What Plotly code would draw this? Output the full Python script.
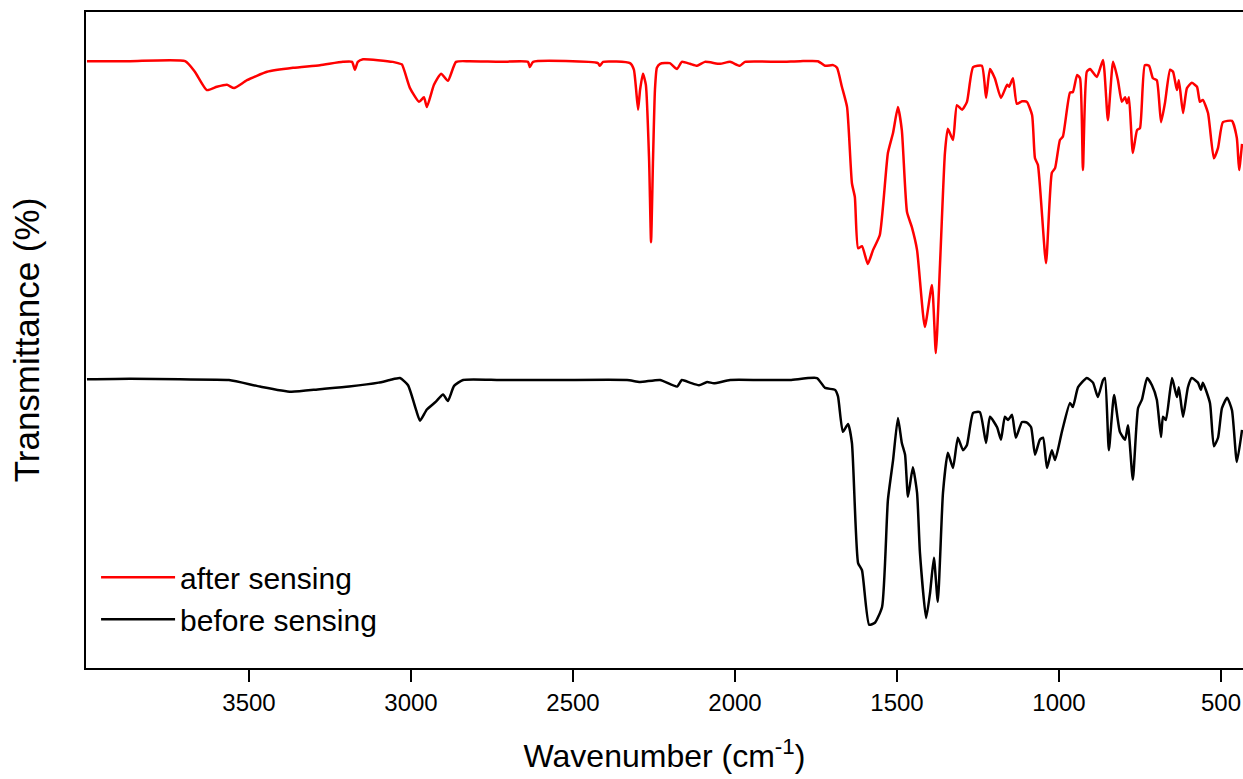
import plotly.graph_objects as go

# ---- data ----
after_wn = [4000, 3867, 3697, 3667, 3630, 3599, 3568, 3546, 3506, 3444, 3364, 3281, 3210, 3182,
            3173, 3164, 3148, 3056, 3040, 3028, 3003, 2975, 2960, 2951, 2929, 2907, 2886, 2861,
            2821, 2725, 2639, 2633, 2623, 2423, 2417, 2407, 2324, 2312, 2299, 2293, 2284, 2275,
            2265, 2259, 2253, 2247, 2241, 2231, 2201, 2179, 2164, 2139, 2117, 2093, 2046, 2015,
            1985, 1969, 1861, 1799, 1744,
            1722, 1697, 1685, 1670, 1654, 1639, 1630, 1620, 1608, 1590, 1574, 1553, 1528, 1512,
            1497, 1485, 1469, 1454, 1438, 1414, 1392, 1380, 1367, 1352, 1343, 1327, 1315, 1299,
            1284, 1265, 1238, 1225, 1213, 1198, 1179, 1160, 1154, 1142, 1130, 1114, 1099, 1083,
            1074, 1065, 1040, 1022, 1012, 997, 988, 966, 957, 944, 935, 926, 914, 904, 883, 864,
            849, 833, 818, 806, 796, 790, 784, 772, 759, 750, 735, 722, 710, 698, 685, 673, 657,
            648, 636, 630, 617, 605, 590, 574, 565, 556, 540, 522, 509, 494, 466, 451, 444, 435]
after_t = [92.5, 92.5, 92.5, 90.9, 88.1, 88.6, 88.9, 88.4, 89.6, 90.9, 91.5, 91.9, 92.4, 92.4,
           91.2, 92.4, 92.8, 92.4, 92.2, 92.0, 88.4, 86.3, 87.0, 85.5, 88.9, 90.6, 89.5, 92.4,
           92.5, 92.4, 92.4, 91.6, 92.4, 92.2, 91.8, 92.4, 92.2, 91.2, 85.1, 88.1, 90.6, 88.9,
           77.4, 64.9, 77.4, 88.1, 91.5, 92.1, 92.2, 91.3, 92.4, 92.1, 91.8, 92.4, 92.1, 92.4,
           91.8, 92.4, 92.4, 92.5, 92.5,
           91.8, 91.9, 91.5, 88.6, 85.5, 73.9, 71.8, 64.0, 64.3, 61.6, 63.7, 66.0, 78.5, 81.6,
           85.5, 82.0, 69.5, 67.2, 63.7, 52.0, 58.4, 48.0, 61.7, 78.5, 82.2, 80.5, 85.8, 85.1,
           86.3, 91.6, 91.8, 86.9, 91.3, 89.9, 86.9, 88.9, 88.6, 89.9, 86.0, 86.4, 86.3, 84.3,
           77.7, 76.7, 61.7, 75.5, 76.2, 80.5, 81.0, 87.7, 87.8, 90.4, 89.9, 75.9, 90.9, 91.3, 90.1, 92.7,
           83.5, 92.4, 89.6, 86.3, 87.0, 86.1, 87.0, 78.5, 82.0, 82.3, 91.9, 91.8, 89.9, 89.6, 83.2, 86.1, 91.2,
           90.9, 88.1, 89.6, 84.6, 88.4, 89.2, 88.6, 86.3, 86.6, 84.6, 77.7, 79.3, 83.2, 83.4, 80.8, 75.9, 79.9]

before_wn = [4000, 3867, 3713, 3562, 3466, 3370, 3281, 3191, 3100, 3065, 3034, 3009, 2984, 2972,
             2951, 2923, 2901, 2886, 2867, 2839, 2725, 2540, 2333, 2293, 2231, 2179, 2164, 2139,
             2111, 2086, 2065, 2015, 1923, 1830, 1747,
             1722, 1691, 1682, 1667, 1651, 1639, 1620, 1608, 1586, 1568, 1546, 1528, 1512, 1497,
             1485, 1475, 1466, 1451, 1438, 1429, 1410, 1398, 1386, 1374, 1358, 1343, 1327, 1312,
             1296, 1284, 1265, 1244, 1225, 1213, 1191, 1179, 1167, 1157, 1145, 1133, 1114, 1099,
             1086, 1074, 1059, 1049, 1037, 1022, 1012, 991, 966, 957, 941, 914, 895, 880, 864,
             858, 846, 830, 812, 796, 787, 772, 756, 744, 728, 713, 698, 685, 679, 670, 651, 636,
             630, 617, 602, 590, 571, 562, 556, 534, 522, 509, 497, 481, 466, 451, 435]
before_t = [44.0, 44.1, 44.0, 43.9, 42.9, 42.1, 42.5, 42.9, 43.5, 43.9, 44.2, 43.1, 39.3, 37.7,
            39.4, 40.6, 41.7, 40.7, 43.0, 43.9, 43.9, 43.9, 43.9, 43.6, 43.9, 42.9, 43.9, 43.5,
            43.1, 43.6, 43.4, 43.9, 43.9, 43.9, 44.2,
            42.7, 42.4, 41.4, 36.0, 37.2, 34.3, 16.0, 14.9, 6.6, 6.9, 9.3, 25.6, 31.7, 38.1,
            34.3, 32.5, 26.1, 30.6, 26.7, 17.5, 7.6, 11.4, 16.8, 10.1, 26.7, 32.8, 30.5, 35.1,
            33.2, 34.0, 38.9, 39.0, 34.3, 38.3, 36.7, 34.8, 38.3, 37.8, 38.6, 35.1, 37.5, 37.4,
            36.7, 32.5, 34.8, 35.1, 30.5, 33.2, 31.7, 36.0, 40.4, 39.8, 42.8, 44.2, 43.5, 41.3, 43.9,
            44.2, 33.2, 41.6, 36.0, 34.8, 37.0, 28.7, 39.6, 40.9, 44.2, 43.1, 40.9, 35.2, 38.3, 37.8, 44.2, 41.3,
            42.8, 38.3, 42.8, 44.2, 43.5, 42.4, 43.5, 40.4, 33.8, 35.1, 39.6, 41.2, 39.3, 31.4, 36.3]

x_ticks = [3500, 3000, 2500, 2000, 1500, 1000, 500]
series_names = ["after sensing", "before sensing"]

FONT = "Liberation Sans, Arial, sans-serif"

fig = go.Figure()
fig.add_trace(go.Scatter(x=after_wn, y=after_t, mode="lines", name=series_names[0],
                         line=dict(color="#ff0000", width=2.5, shape="spline", smoothing=0.5)))
fig.add_trace(go.Scatter(x=before_wn, y=before_t, mode="lines", name=series_names[1],
                         line=dict(color="#000000", width=2.5, shape="spline", smoothing=0.5)))

fig.update_layout(
    width=1243, height=779,
    margin=dict(l=86, r=0, t=12, b=111),
    paper_bgcolor="white", plot_bgcolor="white",
    font=dict(family=FONT, color="black"),
    showlegend=True,
    legend=dict(x=0.0087, y=0.178, xanchor="left", yanchor="top",
                font=dict(family=FONT, size=30, color="black"),
                bgcolor="rgba(0,0,0,0)", itemwidth=74, tracegroupgap=0),
    xaxis=dict(
        range=[4003, 432], tickvals=x_ticks, ticks="outside", ticklen=12, tickwidth=2,
        tickcolor="black", showline=True, linecolor="black", linewidth=2, mirror=True,
        showgrid=False, zeroline=False,
        tickfont=dict(family=FONT, size=24, color="black"),
        title=dict(text="Wavenumber (cm<sup>-1</sup>)", font=dict(family=FONT, size=32, color="black"),
                   standoff=30),
    ),
    yaxis=dict(
        range=[0, 100], showticklabels=False, ticks="", showline=True, linecolor="black",
        linewidth=2, mirror=False, showgrid=False, zeroline=False,
        title=dict(text="Transmittance (%)", font=dict(family=FONT, size=35, color="black"),
                   standoff=34),
    ),
)

fig.write_html("out.html")
